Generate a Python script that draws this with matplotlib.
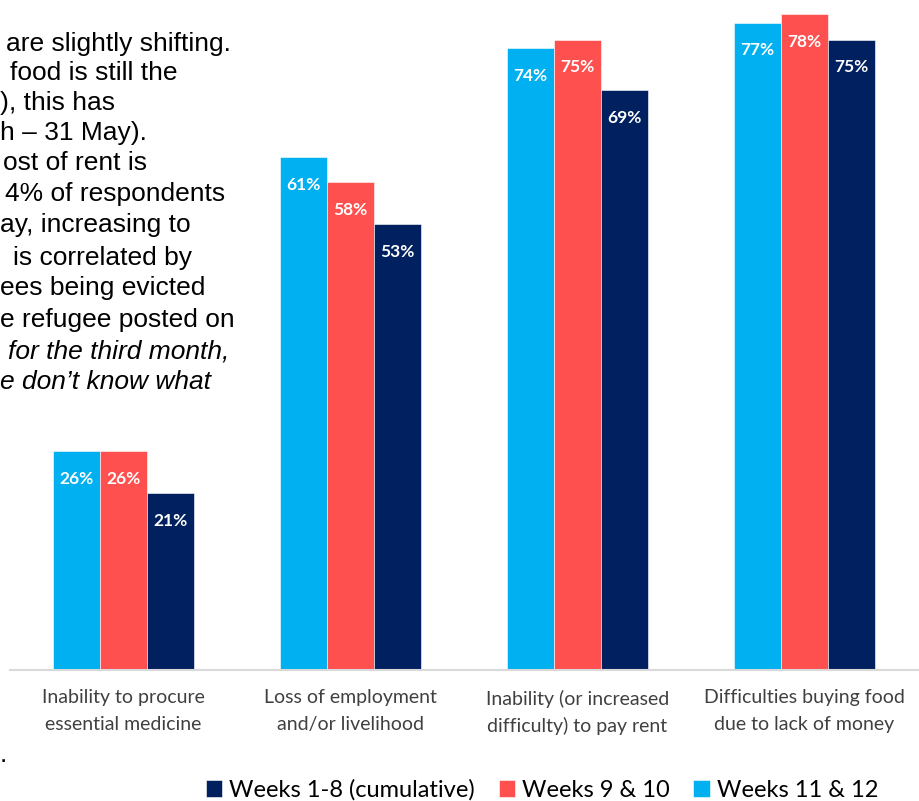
import matplotlib.pyplot as plt
import numpy as np

categories = ["Inability to procure\nessential medicine",
              "Loss of employment\nand/or livelihood",
              "Inability (or increased\ndifficulty) to pay rent",
              "Difficulties buying food\ndue to lack of money"]
weeks_11_12 = [26, 61, 74, 77]
weeks_9_10 = [26, 58, 75, 78]
weeks_1_8 = [21, 53, 69, 75]

series = [("Weeks 11 & 12", weeks_11_12, "#00B0F0"),
          ("Weeks 9 & 10", weeks_9_10, "#FF5050"),
          ("Weeks 1-8 (cumulative)", weeks_1_8, "#002060")]

side_text = [("are slightly shifting.", 6, "normal"),
             ("food is still the", 10, "normal"),
             ("), this has", 0, "normal"),
             ("h \u2013 31 May).", 0, "normal"),
             ("ost of rent is", 3, "normal"),
             ("4% of respondents", 5, "normal"),
             ("ay, increasing to", 0, "normal"),
             ("is correlated by", 13, "normal"),
             ("ees being evicted", 0, "normal"),
             ("e refugee posted on", 0, "normal"),
             ("for the third month,", 8, "italic"),
             ("e don\u2019t know what", 0, "italic")]
side_y = [44, 73, 103, 133, 163, 194, 225, 258, 288, 320, 352, 382]

W, H = 920, 801
fig = plt.figure(figsize=(9.2, 8.01), dpi=100)
ax = fig.add_axes([10 / W, (H - 670) / H, 910 / W, 670 / H])

x = np.arange(len(categories))
width = 0.207
bars_by_name = {}
for i, (name, vals, col) in enumerate(series):
    b = ax.bar(x + (i - 1) * width, vals, width, color=col, label=name,
               edgecolor="white", linewidth=0.4, zorder=2)
    bars_by_name[name] = b
    for rect, v in zip(b, vals):
        ax.annotate(f"{v}%", (rect.get_x() + rect.get_width() / 2, rect.get_height()),
                    xytext=(0, -20), textcoords="offset points", ha="center", va="center",
                    color="white", fontweight="bold", fontsize=12.5, family="Lato")

ax.set_xlim(-0.5, 3.51)
ax.set_ylim(0, 79.7)
ax.set_yticks([])
for s in ["top", "right", "left"]:
    ax.spines[s].set_visible(False)
ax.spines["bottom"].set_color("#D9D9D9")
ax.spines["bottom"].set_linewidth(1.5)
ax.set_xticks(x)
ax.set_xticklabels(categories, fontsize=14, color="#404040", family="Lato", linespacing=1.65)
ax.tick_params(axis="x", length=0, pad=14)

handles = [bars_by_name[n] for n in ["Weeks 1-8 (cumulative)", "Weeks 9 & 10", "Weeks 11 & 12"]]
fig.legend(handles, ["Weeks 1-8 (cumulative)", "Weeks 9 & 10", "Weeks 11 & 12"],
           loc="center", bbox_to_anchor=(542 / W, 1 - 790 / H), ncol=3, frameon=False,
           prop={"family": "Lato", "size": 17}, handlelength=0.7, handleheight=0.7,
           handletextpad=0.3, columnspacing=1.0)

for (txt, xp, style), yp in zip(side_text, side_y):
    fig.text(xp / W, 1 - yp / H, txt, ha="left", va="center", fontsize=19,
             family="Liberation Sans", style=style, color="black")
fig.text(0 / W, 1 - 755 / H, ".", ha="left", va="center", fontsize=19,
         family="Liberation Sans")

fig.savefig("out.png", dpi=100)
